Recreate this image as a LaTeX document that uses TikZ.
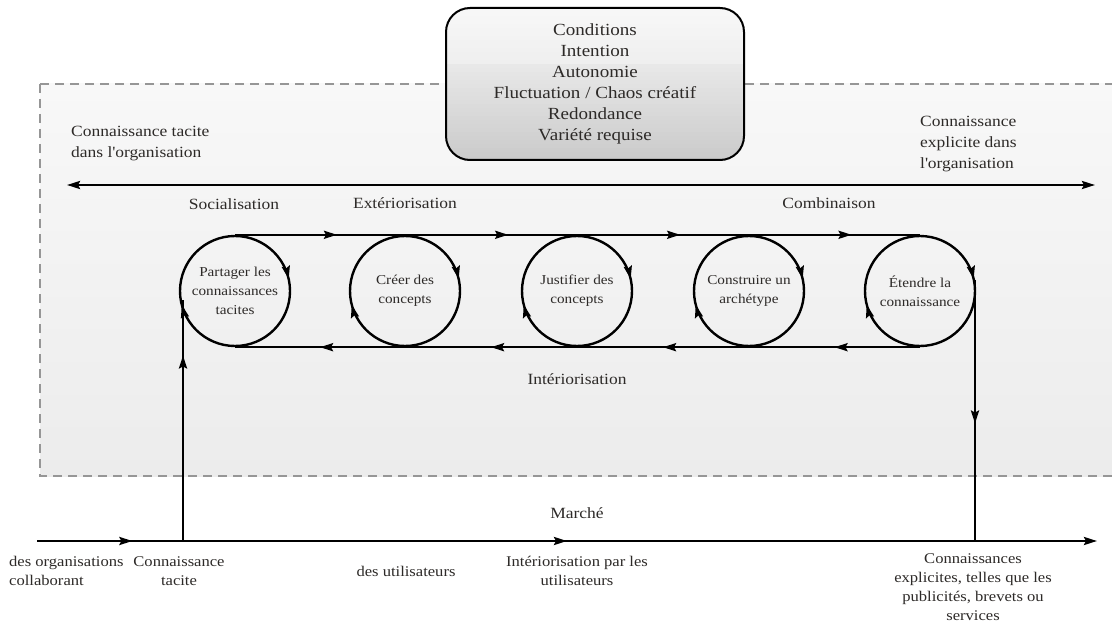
\documentclass[tikz,border=0pt]{standalone}
\usepackage{fontspec}
\setmainfont[FakeStretch=1.12]{Liberation Serif}
\usetikzlibrary{arrows.meta,decorations.markings}
\definecolor{txt}{RGB}{45,42,40}
\definecolor{dashgray}{RGB}{150,150,150}
\definecolor{areatop}{RGB}{248,248,248}
\definecolor{areabot}{RGB}{236,236,236}
\begin{document}
\begin{tikzpicture}[x=1pt,y=-1pt,
  tip/.tip={Stealth[length=13pt,width=8pt,inset=2pt]},
  thick line/.style={line width=2.4pt,draw=black},
  lbl/.style={text=txt,font=\fontsize{15.6}{21}\selectfont,inner sep=0pt,align=center},
  small/.style={text=txt,font=\fontsize{14.8}{19.2}\selectfont,inner sep=0pt,align=center},
  circ/.style={circle,draw,line width=2.4pt,minimum size=110pt,inner sep=0pt,
    text=txt,font=\fontsize{13.6}{19}\selectfont,align=center,
    postaction={decorate},
    decoration={markings,
      mark=at position 0.035 with {\arrowreversed{tip}},
      mark=at position 0.54 with {\arrowreversed{tip}}}},
  markmid/.style={postaction={decorate},decoration={markings,mark=at position #1 with {\arrow{tip}}}},
  topbox/.style={draw,line width=2pt,rounded corners=24pt,minimum width=298pt,minimum height=152pt,
    text=txt,font=\fontsize{17}{21}\selectfont,align=center,inner sep=0pt}
]
\clip (0,0) rectangle (1112,623);
\fill[white] (0,0) rectangle (1112,623);
% organisation area
\draw[dashgray,line width=1.6pt,dash pattern=on 9pt off 6pt,
  top color=areatop,bottom color=areabot]
  (40,84) rectangle (1130,476);
% conditions box background (glossy bands)
\begin{scope}
  \clip[rounded corners=24pt] (446,8) rectangle (744,160);
  \foreach \i in {0,...,38} {
    \pgfmathsetmacro{\p}{ifthenelse(\i<14, 3+0.25*\i, 9+0.5*(\i-14))}
    \fill[black!\p] (446,8+4*\i) rectangle (744,12.5+4*\i);
  }
\end{scope}
\node[topbox] (cond) at (595,84) {Conditions\\Intention\\Autonomie\\Fluctuation / Chaos créatif\\Redondance\\Variété requise};
% top double arrow
\coordinate (tl) at (67,185);
\coordinate (tr) at (1095,185);
\draw[thick line,{tip}-{tip}] (tl) -- (tr);
\node[lbl,anchor=west,align=left] (tac) at (71,144) {Connaissance tacite\\dans l\textquotesingle organisation};
\node[lbl,anchor=west,align=left] (expl) at (920,144) {Connaissance\\explicite dans\\l\textquotesingle organisation};
\node[lbl] (soc) at (234,204) {Socialisation};
\node[lbl] (ext) at (405,203) {Extériorisation};
\node[lbl] (comb) at (829,203) {Combinaison};
\node[lbl] (inter) at (577,379) {Intériorisation};
% circles
\node[circ] (c1) at (235,291) {Partager les\\connaissances\\tacites};
\node[circ] (c2) at (405,291) {Créer des\\concepts};
\node[circ] (c3) at (577,291) {Justifier des\\concepts};
\node[circ] (c4) at (749,291) {Construire un\\archétype};
\node[circ] (c5) at (920,291) {Étendre la\\connaissance};
% top flow
\draw[thick line,markmid=0.6] (c1.north) -- (c2.north);
\draw[thick line,markmid=0.6] (c2.north) -- (c3.north);
\draw[thick line,markmid=0.6] (c3.north) -- (c4.north);
\draw[thick line,markmid=0.6] (c4.north) -- (c5.north);
% bottom flow
\draw[thick line,markmid=0.5] (c5.south) -- (c4.south);
\draw[thick line,markmid=0.5] (c4.south) -- (c3.south);
\draw[thick line,markmid=0.5] (c3.south) -- (c2.south);
\draw[thick line,markmid=0.5] (c2.south) -- (c1.south);
% market line
\coordinate (bs) at (37,541);
\coordinate (be) at (1097,541);
\draw[thick line,-{tip},postaction={decorate},decoration={markings,
  mark=at position 0.09 with {\arrow{tip}},mark=at position 0.5 with {\arrow{tip}}}] (bs) -- (be);
\coordinate (b1) at (183,541);
\coordinate (c1w) at (183,300);
\draw[thick line,markmid=0.77] (b1) -- (c1w);
\coordinate (c5e) at (975,280);
\coordinate (b5) at (975,541);
\draw[thick line,markmid=0.55] (c5e) -- (b5);
\node[lbl] (mar) at (577,513) {Marché};
% bottom labels
\node[small,anchor=west,align=left] (org) at (9,571) {des organisations\\collaborant};
\node[small] (ct) at (179,571) {Connaissance\\tacite};
\node[small] (util) at (406,571) {des utilisateurs};
\node[small] (intu) at (577,571) {Intériorisation par les\\utilisateurs};
\node[small] (ce) at (973,587) {Connaissances\\explicites, telles que les\\publicités, brevets ou\\services};
\end{tikzpicture}
\end{document}
